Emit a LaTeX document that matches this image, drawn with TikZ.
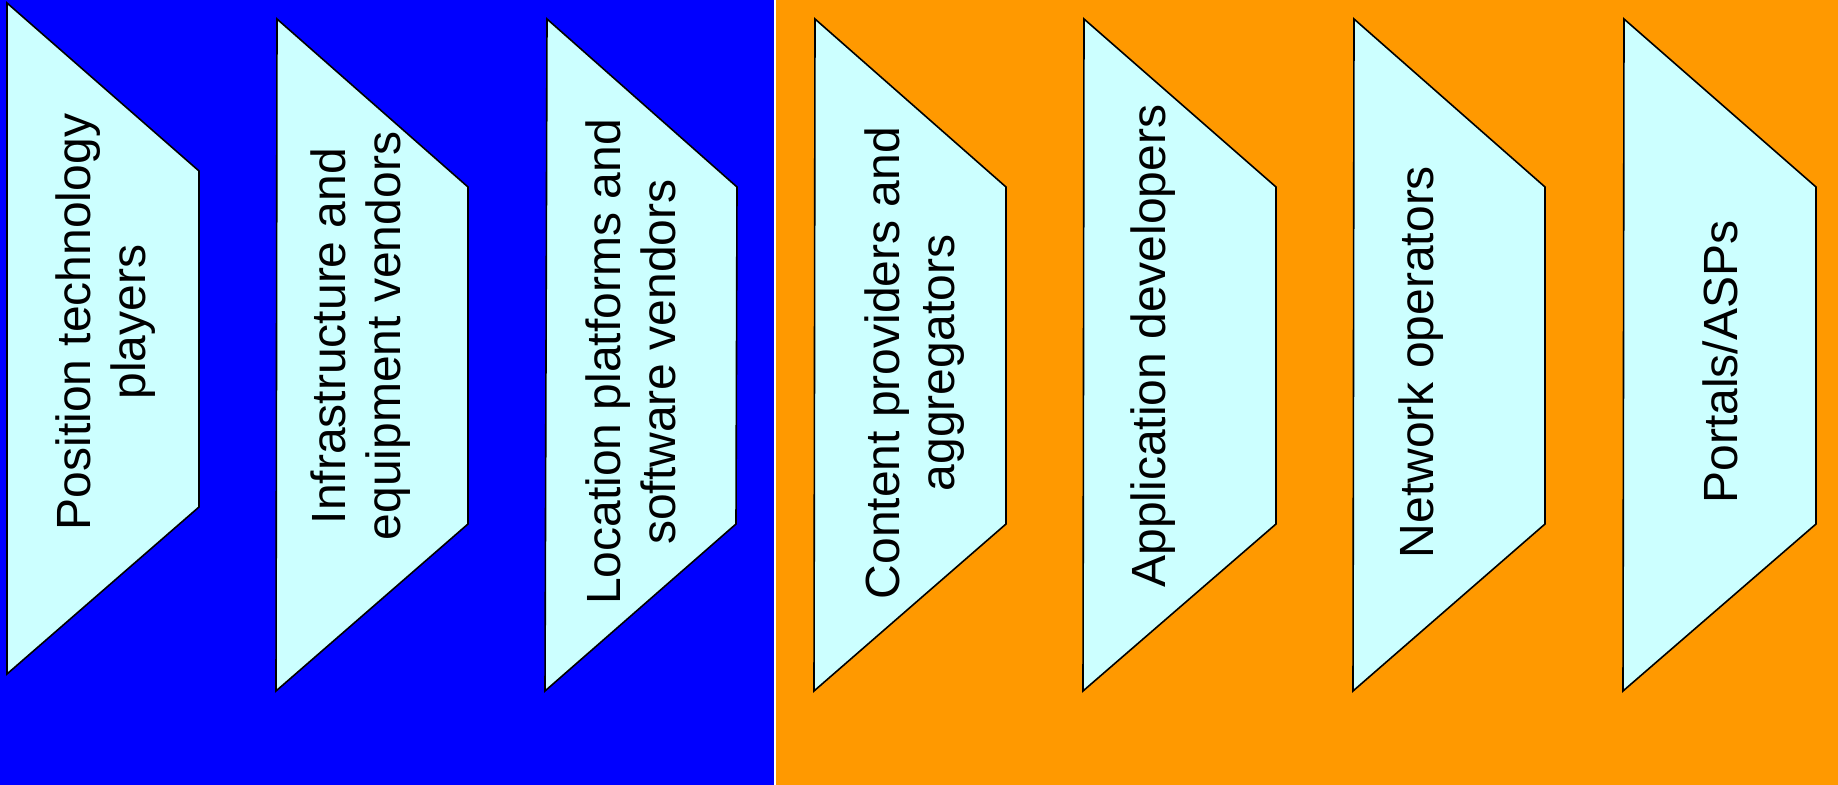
\documentclass[tikz,border=0pt]{standalone}
\usepackage{fontspec}
\setmainfont{Liberation Sans}
\definecolor{panelblue}{HTML}{0000FF}
\definecolor{panelorange}{HTML}{FF9900}
\definecolor{stagefill}{HTML}{CCFFFF}
\begin{document}
\begin{tikzpicture}[x=0.5pt,y=-0.5pt,
  stage/.style={draw=black, line width=0.8pt, fill=stagefill, line join=miter},
  stagetext/.style={rotate=90, align=center, inner sep=0pt,
    font=\fontsize{24}{27.6}\selectfont}]
\useasboundingbox (0,0) rectangle (1838,785);
% two background panels with a thin white divider
\fill[panelblue] (0,0) rectangle (774,785);
\fill[white] (774,0) rectangle (776,785);
\fill[panelorange] (776,0) rectangle (1838,785);
% value-chain stages
\draw[stage] (7,3) -- (199,171) -- (199,507) -- (7,674) -- cycle;
\draw[stage] (277,19) -- (468,187) -- (468,524) -- (276,691) -- cycle;
\draw[stage] (547,19) -- (737,187) -- (736,524) -- (545,691) -- cycle;
\draw[stage] (815,19) -- (1006,187) -- (1006,524) -- (814,691) -- cycle;
\draw[stage] (1084,19) -- (1276,187) -- (1276,524) -- (1083,691) -- cycle;
\draw[stage] (1354,19) -- (1545,187) -- (1545,524) -- (1353,691) -- cycle;
\draw[stage] (1624,19) -- (1816,187) -- (1816,524) -- (1623,691) -- cycle;
% stage labels
\node[stagetext] (t1) at (107,322) {\strut Position technology\\\strut players};
\node[stagetext] (t2) at (362,336) {\strut Infrastructure and\\\strut equipment vendors};
\node[stagetext] (t3) at (637,362) {\strut Location platforms and\\\strut software vendors};
\node[stagetext] (t4) at (916,363) {\strut Content providers and\\\strut aggregators};
\node[stagetext] (t5) at (1154,346) {\strut Application developers};
\node[stagetext] (t6) at (1422,362) {\strut Network operators};
\node[stagetext] (t7) at (1726,362) {\strut Portals/ASPs};
\end{tikzpicture}
\end{document}
